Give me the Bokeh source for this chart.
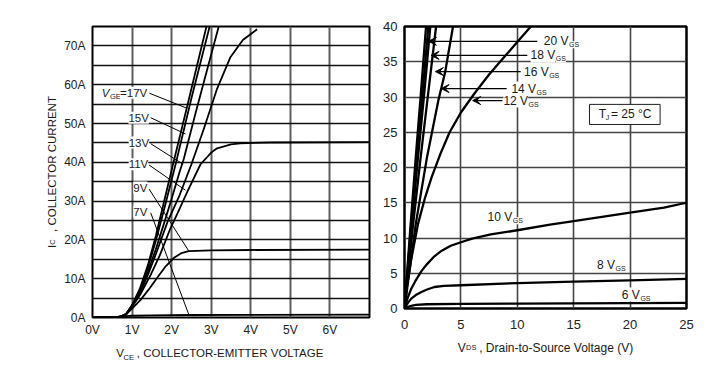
import numpy as np
from bokeh.plotting import figure
from bokeh.layouts import row
from bokeh.models import (Range1d, FixedTicker, PrintfTickFormatter, Label, Arrow,
                          VeeHead, ColumnDataSource, BoxAnnotation)
from bokeh.embed import file_html
from bokeh.resources import INLINE

# ---------------- Left panel data: IGBT output characteristics ----------------
vce_ticks = [0, 1, 2, 3, 4, 5, 6]
ic_ticks = [0, 10, 20, 30, 40, 50, 60, 70]
vce_grid = [0, 1, 2, 3, 4, 5, 6, 7]
ic_grid = [0, 5, 10, 15, 20, 25, 30, 35, 40, 45, 50, 55, 60, 65, 70, 75]

vce_17 = [0, 0.55, 0.7, 0.85, 1.0, 1.2, 1.4, 1.6, 1.8, 2.0, 2.37, 2.88]
ic_17 = [0, 0, 0.2, 0.9, 3.2, 7.5, 13.5, 21.0, 29.5, 38.0, 53.5, 75.0]
vce_15 = [0, 0.55, 0.7, 0.85, 1.0, 1.2, 1.4, 1.6, 1.8, 2.1, 2.5, 2.96]
ic_15 = [0, 0, 0.2, 0.9, 3.1, 7.0, 12.8, 19.8, 27.5, 39.5, 56.5, 75.0]
vce_13 = [0, 0.55, 0.7, 0.85, 1.0, 1.2, 1.4, 1.6, 1.8, 2.0, 2.2, 2.31, 2.6, 2.9, 3.19]
ic_13 = [0, 0, 0.2, 0.9, 3.0, 6.6, 11.8, 17.6, 24.0, 30.6, 37.5, 41.0, 52.5, 64.0, 75.0]
vce_11 = [0, 0.55, 0.7, 0.85, 1.0, 1.2, 1.4, 1.6, 1.89, 2.2, 2.5, 2.81, 3.15, 3.48, 3.8, 4.16]
ic_11 = [0, 0, 0.2, 0.85, 2.9, 6.3, 11.0, 16.3, 24.5, 31.5, 39.5, 48.5, 59.0, 67.0, 71.5, 74.3]
vce_mid = [0, 0.55, 0.7, 0.85, 1.0, 1.2, 1.47, 1.7, 1.97, 2.2, 2.4, 2.73, 3.0, 3.15, 3.5, 3.73, 4.5, 7.0]
ic_mid = [0, 0, 0.2, 0.8, 2.8, 5.8, 11.0, 16.0, 23.0, 28.0, 32.5, 39.5, 42.5, 43.6, 44.6, 44.9, 45.1, 45.2]
vce_9 = [0, 0.55, 0.7, 0.85, 1.0, 1.22, 1.45, 1.64, 1.85, 2.06, 2.25, 2.43, 3.0, 4.0, 7.0]
ic_9 = [0, 0, 0.2, 0.8, 2.3, 4.6, 7.6, 10.3, 13.2, 15.4, 16.6, 17.1, 17.3, 17.4, 17.5]
vce_7 = [0, 0.55, 0.7, 0.85, 1.0, 1.5, 2.43, 4.0, 7.0]
ic_7 = [0, 0, 0.15, 0.35, 0.45, 0.55, 0.65, 0.7, 0.75]

vge_names = ["15V", "13V", "11V", "9V", "7V"]
# leader lines: label end -> curve point
lead_x0 = [1.44, 1.47, 1.47, 1.43, 1.43, 1.47]
lead_y0 = [57.8, 51.5, 44.8, 39.3, 33.1, 27.0]
lead_x1 = [2.37, 2.35, 2.29, 2.35, 2.43, 2.43]
lead_y1 = [54.0, 47.3, 39.5, 32.8, 17.2, 0.85]

# ---------------- Right panel data: MOSFET output characteristics ----------------
vds_ticks = [0, 5, 10, 15, 20, 25]
id_ticks = [0, 5, 10, 15, 20, 25, 30, 35, 40]

vds_s1 = [0, 0.5, 1.0, 1.45, 1.91]
id_s1 = [0, 11, 21.5, 30.5, 40]
vds_s2 = [0, 0.55, 1.1, 1.6, 2.11]
id_s2 = [0, 11, 21.5, 30.5, 40]
vds_s3 = [0, 0.6, 1.2, 1.75, 2.29]
id_s3 = [0, 11, 21.5, 30.5, 40]
vds_s4 = [0, 0.7, 1.4, 2.1, 2.8]
id_s4 = [0, 11, 21, 30.5, 40]
vds_14 = [0, 1.0, 2.0, 3.0, 3.6, 4.3]
id_14 = [0, 12, 21.5, 29.5, 33.5, 40]
vds_12 = [0, 0.2, 0.6, 1.2, 1.8, 2.4, 3.2, 4.0, 5.0, 6.2, 7.5, 8.8, 10.0, 11.2]
id_12 = [0, 3, 7, 12, 15.6, 18.6, 22, 25, 27.8, 30.5, 33.2, 35.6, 37.8, 40]
vds_10 = [0, 0.3, 0.6, 1.0, 1.5, 2.0, 2.65, 3.3, 4.1, 5, 6, 7.65, 10, 12.9, 15, 20, 23, 25]
id_10 = [0, 1.6, 2.8, 4.0, 5.3, 6.3, 7.4, 8.2, 8.9, 9.4, 9.9, 10.5, 11.1, 11.9, 12.4, 13.6, 14.3, 15.0]
vds_8 = [0, 0.3, 0.6, 1.0, 1.5, 2.0, 2.65, 3.5, 5, 10, 15, 20, 25]
id_8 = [0, 0.8, 1.4, 1.9, 2.35, 2.7, 3.05, 3.2, 3.3, 3.6, 3.8, 4.0, 4.2]
vds_6 = [0, 0.5, 1, 2, 5, 10, 25]
id_6 = [0, 0.35, 0.5, 0.6, 0.65, 0.7, 0.8]

arrow_names = ["20 V", "18 V", "16 V", "14 V", "12 V"]
arrow_tip_x = [2.12, 2.35, 2.74, 3.24, 6.04]
arrow_tail_x = [11.77, 10.89, 10.30, 9.06, 8.68]
arrow_y = [37.9, 35.9, 33.6, 31.2, 29.5]
direct_names = ["10 V", "8 V", "6 V"]

FONT = "Liberation Sans"
NB = "\u00a0"
W = {' ': .278, ',': .278, '-': .333, '=': .584, '(': .333, ')': .333, '°': .4,
     'A': .667, 'C': .722, 'D': .722, 'E': .667, 'G': .778, 'I': .278, 'J': .5,
     'S': .667, 'T': .611, 'V': .667}


def tw(s, size):
    return sum(W.get(c, .556) for c in s) * size


def lab(p, x, y, text, size, xo=0, yo=0, style="normal", bg="white", angle=0,
        align="left", color="#1a1a1a", place=None):
    l = Label(x=x, y=y, text=text, x_offset=xo, y_offset=yo,
              text_font=FONT, text_font_size=f"{size}px",
              text_font_style=style, text_color=color,
              text_align=align, text_baseline="middle", angle=angle,
              background_fill_color=bg)
    if place:
        p.add_layout(l, place)
    else:
        p.add_layout(l)


def style_axes(p, size, title_size):
    for ax in (p.xaxis, p.yaxis):
        ax.axis_line_color = None
        ax.major_tick_line_color = None
        ax.minor_tick_line_color = None
        ax.major_tick_out = 0
        ax.major_tick_in = 0
        ax.minor_tick_out = 0
        ax.minor_tick_in = 0
        ax.major_label_text_font = FONT
        ax.major_label_text_font_size = f"{size}px"
        ax.major_label_text_color = "#222222"
        ax.axis_label_text_font = FONT
        ax.axis_label_text_font_size = f"{title_size}px"
        ax.axis_label_text_font_style = "normal"
        ax.axis_label_text_color = "#1a1a1a"


# ---------------- Left figure ----------------
p1 = figure(width=380, height=372, x_range=Range1d(0, 7), y_range=Range1d(0, 75),
            output_backend="svg", toolbar_location=None,
            min_border_left=92, min_border_right=11, min_border_top=26, min_border_bottom=55)
p1.outline_line_color = "black"
p1.outline_line_width = 2
p1.xaxis.ticker = FixedTicker(ticks=vce_ticks)
p1.yaxis.ticker = FixedTicker(ticks=ic_ticks)
p1.xaxis.formatter = PrintfTickFormatter(format="%dV")
p1.yaxis.formatter = PrintfTickFormatter(format="%dA")
p1.xgrid.ticker = FixedTicker(ticks=vce_grid)
p1.ygrid.ticker = FixedTicker(ticks=ic_grid)
p1.xgrid.grid_line_color = "#5e5e5e"
p1.xgrid.grid_line_width = 2
p1.ygrid.grid_line_color = "#111111"
p1.ygrid.grid_line_width = 1.3
style_axes(p1, 12, 11.5)
p1.xaxis.major_label_standoff = 5
p1.yaxis.major_label_standoff = 7
p1.xaxis.axis_label = "V" + NB * 4 + ", COLLECTOR-EMITTER VOLTAGE" + NB * 7
p1.xaxis.axis_label_standoff = 7
p1.yaxis.axis_label = "I" + NB * 4 + ", COLLECTOR CURRENT"
p1.yaxis.axis_label_standoff = 3

for xs, ys in [(vce_17, ic_17), (vce_15, ic_15), (vce_13, ic_13), (vce_11, ic_11),
               (vce_mid, ic_mid), (vce_9, ic_9), (vce_7, ic_7)]:
    p1.line(xs, ys, line_color="black", line_width=1.8, line_join="round")

p1.segment(x0=lead_x0, y0=lead_y0, x1=lead_x1, y1=lead_y1, line_color="black", line_width=1)

# V_GE=17V label
lab(p1, 0.234, 57.9, "V", 11.5, style="italic")
lab(p1, 0.234, 57.9, "GE", 7.5, xo=8.2, yo=-3.5)
lab(p1, 0.234, 57.9, "=17V", 11.5, xo=18.3)
for name, lx, ly in zip(vge_names, [0.907, 0.914, 0.914, 1.03, 1.03],
                        [51.5, 45.1, 39.5, 33.5, 27.3]):
    lab(p1, lx, ly, name, 11.5)

# subscripts of the axis titles (side panels, so they are not clipped)
lab(p1, 0.783, -10.2, "CE", 7.5, bg=None, place="above")
lab(p1, -1.0, 18.74, "C", 7.5, bg=None, angle=np.pi / 2, place="left")

# ---------------- Right figure ----------------
p2 = figure(width=332, height=363, x_range=Range1d(0, 25), y_range=Range1d(0, 40),
            output_backend="svg", toolbar_location=None,
            min_border_left=23, min_border_right=26, min_border_top=26, min_border_bottom=55)
p2.outline_line_color = "black"
p2.outline_line_width = 2.5
p2.xaxis.ticker = FixedTicker(ticks=vds_ticks)
p2.yaxis.ticker = FixedTicker(ticks=id_ticks)
p2.xgrid.grid_line_color = "#444444"
p2.ygrid.grid_line_color = "#444444"
p2.xgrid.grid_line_width = 1.6
p2.ygrid.grid_line_width = 1.6
style_axes(p2, 13, 12)
p2.xaxis.major_label_standoff = 11
p2.yaxis.major_label_standoff = 7
p2.xaxis.axis_label = "V" + NB * 4 + ", Drain-to-Source Voltage (V)"
p2.xaxis.axis_label_standoff = 9

for xs, ys in [(vds_s1, id_s1), (vds_s2, id_s2), (vds_s3, id_s3), (vds_s4, id_s4),
               (vds_14, id_14), (vds_12, id_12), (vds_10, id_10), (vds_8, id_8),
               (vds_6, id_6)]:
    p2.line(xs, ys, line_color="black", line_width=2.3, line_join="round")

p2.add_layout(BoxAnnotation(left=16.4, right=22.66, bottom=26.1, top=28.95,
                            fill_color="white", fill_alpha=1, line_color="#222222",
                            line_width=1, line_alpha=1))

asrc = ColumnDataSource(dict(x0=arrow_tail_x, x1=arrow_tip_x, y=arrow_y))
p2.add_layout(Arrow(end=VeeHead(size=8, fill_color="black", line_color="black", line_width=1),
                    x_start="x0", y_start="y", x_end="x1", y_end="y", source=asrc,
                    line_color="black", line_width=1.2))

for name, lx, ly in zip(arrow_names, [12.35, 11.18, 10.59, 9.48, 8.77], arrow_y):
    lab(p2, lx, ly, name, 12)
    lab(p2, lx, ly, "GS", 7, xo=tw(name, 12) + 0.5, yo=-3.5)
for name, lx, ly in zip(direct_names, [7.36, 17.06, 19.27], [12.93, 6.21, 1.98]):
    lab(p2, lx, ly, name, 12)
    lab(p2, lx, ly, "GS", 7, xo=tw(name, 12) + 0.5, yo=-3.5)

lab(p2, 17.21, 27.6, "T", 12, bg=None)
lab(p2, 17.21, 27.6, "J", 7, xo=7.0, yo=-3.5, bg=None)
lab(p2, 17.21, 27.6, "= 25 °C", 12, xo=12.4, bg=None)

lab(p2, 5.46, -5.6, "DS", 7.5, bg=None, place="right")

layout = row(p1, p2)
open("out.html", "w").write(file_html(layout, INLINE))
